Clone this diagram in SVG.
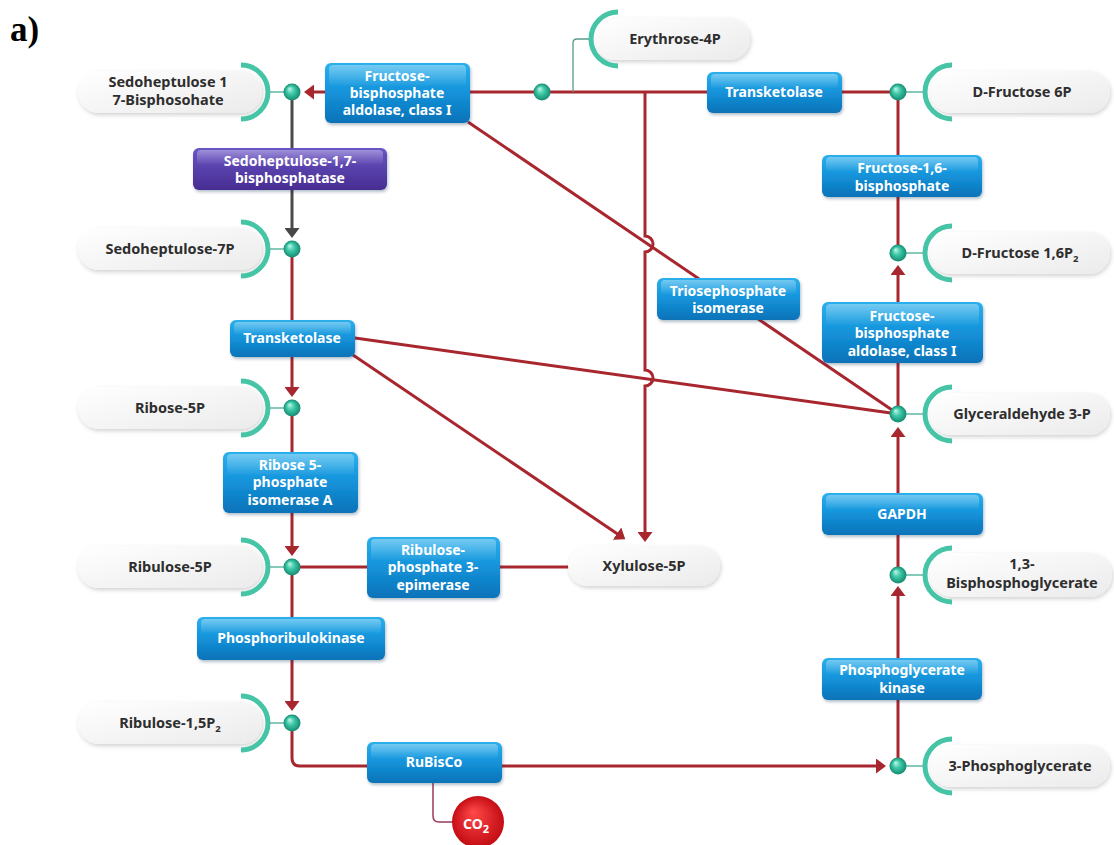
<svg xmlns="http://www.w3.org/2000/svg" width="1114" height="845" viewBox="0 0 1114 845">
<defs>
<linearGradient id="gBlue" x1="0" y1="0" x2="0" y2="1">
<stop offset="0" stop-color="#2cb0ec"/><stop offset="0.45" stop-color="#1595dc"/><stop offset="1" stop-color="#0a72b8"/>
</linearGradient>
<linearGradient id="gPurple" x1="0" y1="0" x2="0" y2="1">
<stop offset="0" stop-color="#6a55c4"/><stop offset="1" stop-color="#472c92"/>
</linearGradient>
<linearGradient id="gGloss" x1="0" y1="0" x2="0" y2="1">
<stop offset="0" stop-color="#fff" stop-opacity="0.35"/><stop offset="1" stop-color="#fff" stop-opacity="0"/>
</linearGradient>
<linearGradient id="gPill" x1="0" y1="0" x2="1" y2="1">
<stop offset="0" stop-color="#ffffff"/><stop offset="1" stop-color="#ebebeb"/>
</linearGradient>
<radialGradient id="gDot" cx="0.5" cy="0.5" r="0.5" fx="0.35" fy="0.3">
<stop offset="0" stop-color="#c4f7ea"/><stop offset="0.45" stop-color="#3fcaa8"/><stop offset="1" stop-color="#168a72"/>
</radialGradient>
<radialGradient id="gRed" cx="0.5" cy="0.5" r="0.5" fx="0.4" fy="0.3">
<stop offset="0" stop-color="#ff4a4a"/><stop offset="1" stop-color="#c40c14"/>
</radialGradient>
<filter id="sh" x="-20%" y="-30%" width="140%" height="170%">
<feDropShadow dx="1" dy="2" stdDeviation="2" flood-color="#000" flood-opacity="0.18"/>
</filter>
<filter id="sh2" x="-20%" y="-30%" width="140%" height="170%">
<feDropShadow dx="1" dy="2" stdDeviation="1.5" flood-color="#003050" flood-opacity="0.3"/>
</filter>
<marker id="ar" markerUnits="userSpaceOnUse" viewBox="0 0 10 15" refX="6" refY="7.5" markerWidth="10" markerHeight="15" orient="auto">
<path d="M0,0 L10,7.5 L0,15 z" fill="#a8262e"/>
</marker>
<marker id="ag" markerUnits="userSpaceOnUse" viewBox="0 0 10 15" refX="6" refY="7.5" markerWidth="10" markerHeight="15" orient="auto">
<path d="M0,0 L10,7.5 L0,15 z" fill="#474747"/>
</marker>
<style>
.pill{fill:url(#gPill);filter:url(#sh);}
.arc{fill:none;stroke:#45c4a6;stroke-width:5;}
.tl{fill:none;stroke:#5fb8a4;stroke-width:1.5;}
.dot{fill:url(#gDot);}
.box{fill:url(#gBlue);filter:url(#sh2);}
.pbox{fill:url(#gPurple);filter:url(#sh2);}
.gl{fill:url(#gGloss);}
.bt{font-family:"Noto Sans","Liberation Sans",sans-serif;font-weight:700;font-size:14px;fill:#ffffff;text-anchor:middle;}
.pt{font-family:"Noto Sans","Liberation Sans",sans-serif;font-weight:700;font-size:14.5px;fill:#2e2e2e;text-anchor:middle;}
.red{fill:none;stroke:#a8262e;stroke-width:3;}
.gray{fill:none;stroke:#4a4a4a;stroke-width:3;}
</style>
</defs>
<rect width="1114" height="845" fill="#ffffff"/>
<text x="10" y="41" font-family="Liberation Serif, serif" font-weight="700" font-size="35" fill="#000">a)</text>

<g id="connectors">
<path class="gray" d="M292,92 V234" marker-end="url(#ag)"/>
<path class="red" d="M292,249 V393" marker-end="url(#ar)"/>
<path class="red" d="M292,408 V552" marker-end="url(#ar)"/>
<path class="red" d="M292,567 V707" marker-end="url(#ar)"/>
<path class="red" d="M292,723 V758 Q292,766 300,766 H882" marker-end="url(#ar)"/>
<path class="red" d="M470,92 H898"/>
<path class="red" d="M325,92 H308" marker-end="url(#ar)"/>
<path class="red" d="M645,92 V236 a8,8 0 0 1 0,16 V370 a8,8 0 0 1 0,16 V538" marker-end="url(#ar)"/>
<path class="red" d="M468,122 L898,414"/>
<path class="red" d="M355,338 L898,414"/>
<path class="red" d="M353,355 L622,537" marker-end="url(#ar)"/>
<path class="red" d="M292,567 H570"/>
<path class="red" d="M898,92 V253"/>
<path class="red" d="M898,414 V269" marker-end="url(#ar)"/>
<path class="red" d="M898,575 V431" marker-end="url(#ar)"/>
<path class="red" d="M898,766 V590" marker-end="url(#ar)"/>
<path fill="none" stroke="#9a3a58" stroke-width="1.5" d="M433,783 V816 Q433,822 439,822 H455"/>
<path fill="none" stroke="#5a9a8c" stroke-width="1.3" d="M591,39 H577 Q573,39 573,43 V92"/>
</g>

<g id="junction"><circle class="dot" cx="542" cy="92" r="8.5"/></g>

<g id="sedoheptulose-17bp">
<rect class="pill" x="78" y="71" width="184" height="42" rx="21"/>
<path class="arc" d="M241,65 A27,27 0 0 1 241,119"/>
<path class="tl" d="M268,92 H284"/>
<circle class="dot" cx="292" cy="92" r="8.5"/>
<text class="pt" x="168" y="87">Sedoheptulose 1</text>
<text class="pt" x="168" y="105">7-Bisphosohate</text>
</g>
<g id="sedoheptulose-7p">
<rect class="pill" x="78" y="228" width="184" height="42" rx="21"/>
<path class="arc" d="M241,222 A27,27 0 0 1 241,276"/>
<path class="tl" d="M268,249 H284"/>
<circle class="dot" cx="292" cy="249" r="8.5"/>
<text class="pt" x="170" y="254">Sedoheptulose-7P</text>
</g>
<g id="ribose-5p">
<rect class="pill" x="78" y="387" width="184" height="42" rx="21"/>
<path class="arc" d="M241,381 A27,27 0 0 1 241,435"/>
<path class="tl" d="M268,408 H284"/>
<circle class="dot" cx="292" cy="408" r="8.5"/>
<text class="pt" x="170" y="413">Ribose-5P</text>
</g>
<g id="ribulose-5p">
<rect class="pill" x="78" y="546" width="184" height="42" rx="21"/>
<path class="arc" d="M241,540 A27,27 0 0 1 241,594"/>
<path class="tl" d="M268,567 H284"/>
<circle class="dot" cx="292" cy="567" r="8.5"/>
<text class="pt" x="170" y="572">Ribulose-5P</text>
</g>
<g id="ribulose-15p2">
<rect class="pill" x="78" y="702" width="184" height="42" rx="21"/>
<path class="arc" d="M241,696 A27,27 0 0 1 241,750"/>
<path class="tl" d="M268,723 H284"/>
<circle class="dot" cx="292" cy="723" r="8.5"/>
<text class="pt" x="170" y="728">Ribulose-1,5P<tspan font-size="9.5" dy="4">2</tspan></text>
</g>

<g id="erythrose-4p">
<rect class="pill" x="594" y="18" width="156" height="42" rx="21"/>
<path class="arc" d="M618,12 A27,27 0 0 0 618,66"/>
<text class="pt" x="675" y="44">Erythrose-4P</text>
</g>
<g id="xylulose-5p">
<rect class="pill" x="568" y="546" width="152" height="40" rx="20"/>
<text class="pt" x="644" y="571">Xylulose-5P</text>
</g>

<g id="d-fructose-6p">
<rect class="pill" x="930" y="71" width="180" height="42" rx="21"/>
<path class="arc" d="M952,65 A27,27 0 0 0 952,119"/>
<path class="tl" d="M906,92 H925"/>
<circle class="dot" cx="898" cy="92" r="8.5"/>
<text class="pt" x="1022" y="97">D-Fructose 6P</text>
</g>
<g id="d-fructose-16p2">
<rect class="pill" x="930" y="232" width="180" height="42" rx="21"/>
<path class="arc" d="M952,226 A27,27 0 0 0 952,280"/>
<path class="tl" d="M906,253 H925"/>
<circle class="dot" cx="898" cy="253" r="8.5"/>
<text class="pt" x="1020" y="258">D-Fructose 1,6P<tspan font-size="9.5" dy="4">2</tspan></text>
</g>
<g id="glyceraldehyde-3p">
<rect class="pill" x="930" y="393" width="180" height="42" rx="21"/>
<path class="arc" d="M952,387 A27,27 0 0 0 952,441"/>
<path class="tl" d="M906,414 H925"/>
<circle class="dot" cx="898" cy="414" r="8.5"/>
<text class="pt" x="1022" y="419">Glyceraldehyde 3-P</text>
</g>
<g id="bisphosphoglycerate">
<rect class="pill" x="930" y="553" width="182" height="44" rx="22"/>
<path class="arc" d="M952,548 A27,27 0 0 0 952,602"/>
<path class="tl" d="M906,575 H925"/>
<circle class="dot" cx="898" cy="575" r="8.5"/>
<text class="pt" x="1022" y="569">1,3-</text>
<text class="pt" x="1022" y="588">Bisphosphoglycerate</text>
</g>
<g id="phosphoglycerate-3">
<rect class="pill" x="930" y="745" width="180" height="42" rx="21"/>
<path class="arc" d="M952,739 A27,27 0 0 0 952,793"/>
<path class="tl" d="M906,766 H925"/>
<circle class="dot" cx="898" cy="766" r="8.5"/>
<text class="pt" x="1020" y="771">3-Phosphoglycerate</text>
</g>

<g id="fba-top">
<rect class="box" x="325" y="63" width="145" height="60" rx="6"/>
<rect class="gl" x="329" y="65" width="137" height="22" rx="4"/>
<text class="bt" x="397" y="81">Fructose-</text>
<text class="bt" x="397" y="98">bisphosphate</text>
<text class="bt" x="397" y="115">aldolase, class I</text>
</g>
<g id="sbpase">
<rect class="pbox" x="193" y="148" width="194" height="42" rx="6"/>
<rect class="gl" x="197" y="150" width="186" height="15" rx="4"/>
<text class="bt" x="290" y="166">Sedoheptulose-1,7-</text>
<text class="bt" x="290" y="183">bisphosphatase</text>
</g>
<g id="transketolase-top">
<rect class="box" x="707" y="72" width="135" height="41" rx="6"/>
<rect class="gl" x="711" y="74" width="127" height="15" rx="4"/>
<text class="bt" x="774" y="97">Transketolase</text>
</g>
<g id="fbp-right">
<rect class="box" x="822" y="155" width="160" height="42" rx="6"/>
<rect class="gl" x="826" y="157" width="152" height="15" rx="4"/>
<text class="bt" x="902" y="173">Fructose-1,6-</text>
<text class="bt" x="902" y="191">bisphosphate</text>
</g>
<g id="tpi">
<rect class="box" x="657" y="278" width="143" height="42" rx="6"/>
<rect class="gl" x="661" y="280" width="135" height="15" rx="4"/>
<text class="bt" x="728" y="296">Triosephosphate</text>
<text class="bt" x="728" y="313">isomerase</text>
</g>
<g id="fba-right">
<rect class="box" x="822" y="302" width="161" height="61" rx="6"/>
<rect class="gl" x="826" y="304" width="153" height="22" rx="4"/>
<text class="bt" x="902" y="321">Fructose-</text>
<text class="bt" x="902" y="338">bisphosphate</text>
<text class="bt" x="902" y="356">aldolase, class I</text>
</g>
<g id="transketolase-left">
<rect class="box" x="230" y="320" width="125" height="37" rx="6"/>
<rect class="gl" x="234" y="322" width="117" height="13" rx="4"/>
<text class="bt" x="292" y="343">Transketolase</text>
</g>
<g id="rpi">
<rect class="box" x="223" y="452" width="135" height="61" rx="6"/>
<rect class="gl" x="227" y="454" width="127" height="22" rx="4"/>
<text class="bt" x="290" y="470">Ribose 5-</text>
<text class="bt" x="290" y="487">phosphate</text>
<text class="bt" x="290" y="505">isomerase A</text>
</g>
<g id="rpe">
<rect class="box" x="367" y="537" width="133" height="61" rx="6"/>
<rect class="gl" x="371" y="539" width="125" height="22" rx="4"/>
<text class="bt" x="433" y="555">Ribulose-</text>
<text class="bt" x="433" y="572">phosphate 3-</text>
<text class="bt" x="433" y="590">epimerase</text>
</g>
<g id="gapdh">
<rect class="box" x="822" y="493" width="161" height="42" rx="6"/>
<rect class="gl" x="826" y="495" width="153" height="15" rx="4"/>
<text class="bt" x="902" y="519">GAPDH</text>
</g>
<g id="prk">
<rect class="box" x="197" y="617" width="188" height="43" rx="6"/>
<rect class="gl" x="201" y="619" width="180" height="15" rx="4"/>
<text class="bt" x="291" y="643">Phosphoribulokinase</text>
</g>
<g id="pgk">
<rect class="box" x="822" y="658" width="160" height="42" rx="6"/>
<rect class="gl" x="826" y="660" width="152" height="15" rx="4"/>
<text class="bt" x="902" y="675">Phosphoglycerate</text>
<text class="bt" x="902" y="693">kinase</text>
</g>
<g id="rubisco">
<rect class="box" x="367" y="742" width="135" height="41" rx="6"/>
<rect class="gl" x="371" y="744" width="127" height="15" rx="4"/>
<text class="bt" x="434" y="767">RuBisCo</text>
</g>
<g id="co2">
<circle cx="478" cy="822" r="26" fill="url(#gRed)"/>
<text class="bt" x="476" y="829" font-size="17">CO<tspan font-size="11" dy="4">2</tspan></text>
</g>
</svg>
